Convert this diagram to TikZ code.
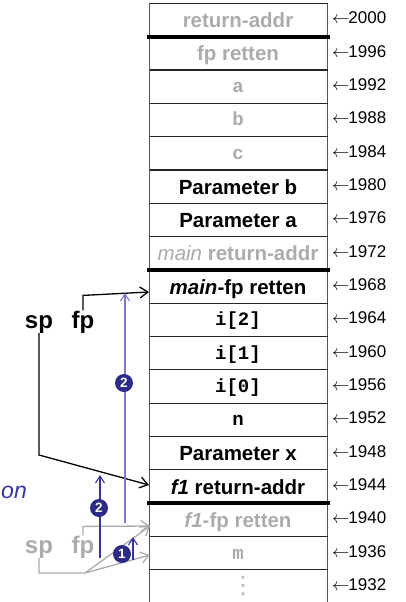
\documentclass[tikz,border=0pt]{standalone}
\usepackage{fontspec}
\setmainfont{Liberation Sans}
\setmonofont{Liberation Mono}
\newfontfamily\dejavu{DejaVu Sans}
\usetikzlibrary{arrows.meta}
\definecolor{lg}{HTML}{ABABAB}
\definecolor{navy}{HTML}{2C2C88}
\definecolor{lblue}{HTML}{7B7BC8}
\definecolor{dblue}{HTML}{34349C}
\definecolor{ontext}{HTML}{3535A8}
\definecolor{colline}{HTML}{555555}
\tikzset{
  cell/.style={anchor=base, inner sep=0, font=\fontsize{20.5}{24}\selectfont\bfseries},
  mono/.style={anchor=base, inner sep=0, font=\fontsize{19}{22}\selectfont\ttfamily\bfseries},
  addr/.style={anchor=base west, inner sep=0, font=\fontsize{17}{20}\selectfont},
  ptr/.style={anchor=base, inner sep=0, font=\fontsize{24}{28}\selectfont\bfseries},
  num/.style={circle, fill=navy, text=white, inner sep=0, minimum size=18pt, font=\fontsize{13.5}{13.5}\selectfont\bfseries},
  barb/.style={-{Straight Barb[length=8pt,width=11pt,line width=1.3pt]}, line width=1.3pt},
  bbarb/.style={-{Straight Barb[length=7pt,width=9pt]}, line width=1.1pt},
  thick row/.style={line width=4pt, black},
  thin row/.style={line width=1.1pt, black!85},
}
\begin{document}
\begin{tikzpicture}[x=1pt, y=-1pt]
\useasboundingbox (0,0) rectangle (406,602);
% column
\def\T{3.3}
\def\H{33.33}
\draw[colline, line width=1.1pt] (149.5,\T) -- (149.5,603) (327.5,\T) -- (327.5,603);
\draw[thin row] (149.5,\T) -- (327.5,\T);
\foreach \i in {2,...,7,9,10,...,14,16,17}
  \draw[thin row] (149.5,{\T+\H*\i}) -- (327.5,{\T+\H*\i});
\foreach \i in {1,8,15}
  \draw[thick row] (147,{\T+\H*\i}) -- (330,{\T+\H*\i});
% cells
\newcommand\cy[1]{\T+\H*#1+\H/2+7.5}
\newcommand\my[1]{\T+\H*#1+\H/2+6}
\node[cell, lg]   (c0)  at (238,{\cy{0}}) {return-addr};
\node[cell, lg]   (c1)  at (238,{\cy{1}}) {fp retten};
\node[mono, lg]   (c2)  at (238,{\my{2}}) {a};
\node[mono, lg]   (c3)  at (238,{\my{3}}) {b};
\node[mono, lg]   (c4)  at (238,{\my{4}}) {c};
\node[cell]       (c5)  at (238,{\cy{5}}) {Parameter b};
\node[cell]       (c6)  at (238,{\cy{6}}) {Parameter a};
\node[cell, lg]   (c7)  at (238,{\cy{7}}) {\mdseries\itshape main\/ \bfseries\upshape return-addr};
\node[cell]       (c8)  at (238,{\cy{8}}) {\itshape main\/\upshape -fp retten};
\node[mono]       (c9)  at (238,{\my{9}}) {i[2]};
\node[mono]       (c10) at (238,{\my{10}}) {i[1]};
\node[mono]       (c11) at (238,{\my{11}}) {i[0]};
\node[mono]       (c12) at (238,{\my{12}}) {n};
\node[cell]       (c13) at (238,{\cy{13}}) {Parameter x};
\node[cell]       (c14) at (238,{\cy{14}}) {\itshape f1\/\upshape{} return-addr};
\node[cell, lg]   (c15) at (238,{\cy{15}}) {\itshape f1\/\upshape -fp retten};
\node[mono, lg]   (c16) at (238,{\my{16}}) {m};
\node[anchor=center, inner sep=0, text=lg!80, font=\fontsize{24}{24}\selectfont\dejavu] (c17) at (243,{\T+\H*17+\H/2-1}) {⋮};
% addresses
\foreach \i/\a in {0/2000,1/1996,2/1992,3/1988,4/1984,5/1980,6/1976,7/1972,8/1968,9/1964,10/1960,11/1956,12/1952,13/1948,14/1944,15/1940,16/1936,17/1932}
  \node[addr] (a\a) at (332,{\T+\H*\i+\H/2+4}) {$\leftarrow$\kern-1pt\a};
% black pointers
\node[ptr] (sp) at (39,328) {sp};
\node[ptr] (fp) at (83,328) {fp};
\coordinate (fpT) at (149,292);
\coordinate (spT) at (149,485);
\draw[barb] (fp.north) -- ++(0,-15) -- (fpT);
\draw[barb] (sp.south) -- (sp.south |- 0,455) -- (spT);
% gray pointers
\node[ptr, lg] (gsp) at (39,553) {sp};
\node[ptr, lg] (gfp) at (83,553) {fp};
\coordinate (gT1) at (150,526);
\coordinate (gT2) at (150,555);
\coordinate (gK) at (85,573);
\draw[barb, lg] (gfp.north) -- ++(0,-9) -- (gT1);
\draw[barb, lg] (gsp.south) -- (gsp.south |- gK) -- (gK) -- (gT1);
\draw[barb, lg] (gK) -- (gT2);
% blue moves
\coordinate (b1s) at (125,523);
\coordinate (b1e) at (125,293);
\coordinate (b2s) at (100,558);
\coordinate (b2e) at (100,475);
\coordinate (b3s) at (133,560);
\coordinate (b3e) at (133,537);
\draw[bbarb, lblue] (b1s) -- (b1e);
\draw[bbarb, dblue] (b2s) -- (b2e);
\draw[bbarb, dblue] (b3s) -- (b3e);
\node[num] (n2a) at (124,383) {2};
\node[num] (n2b) at (99,508) {2};
\node[num] (n1) at (122,554) {1};
% cut text
\node[anchor=base east, inner sep=0, text=ontext, font=\fontsize{23}{26}\selectfont\itshape] (on) at (27,498) {on};
\end{tikzpicture}
\end{document}
